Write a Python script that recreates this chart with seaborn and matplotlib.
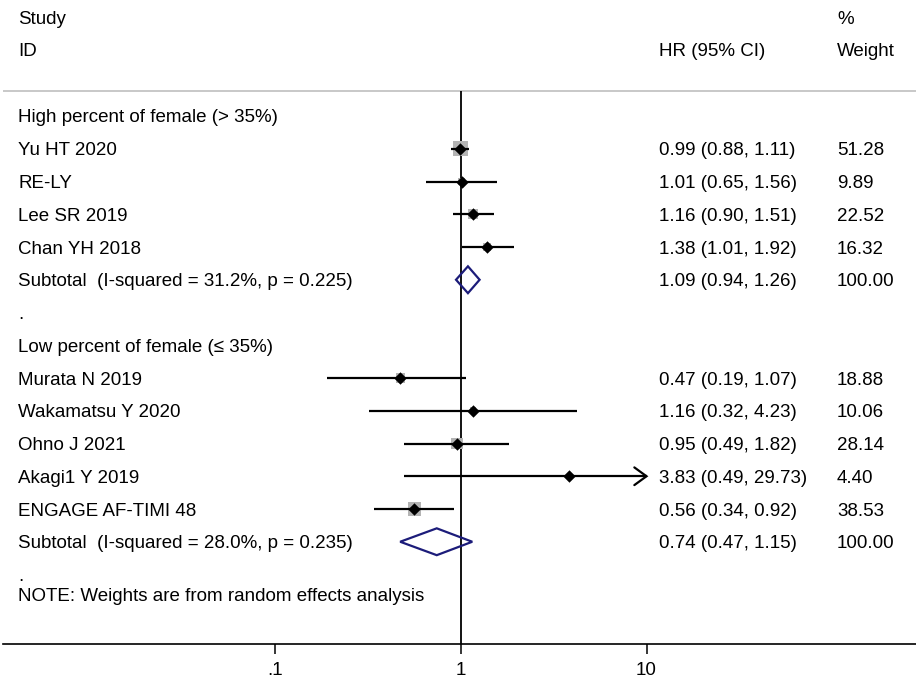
import numpy as np
import pandas as pd
import matplotlib
matplotlib.use("Agg")
import matplotlib.pyplot as plt
import matplotlib.transforms as mtransforms
import seaborn as sns

# Donnees du forest plot
high_studies = ["Yu HT 2020", "RE-LY", "Lee SR 2019", "Chan YH 2018"]
high_hr = [0.99, 1.01, 1.16, 1.38]
high_lo = [0.88, 0.65, 0.90, 1.01]
high_hi = [1.11, 1.56, 1.51, 1.92]
high_w = [51.28, 9.89, 22.52, 16.32]
high_sub = [1.09, 0.94, 1.26]
high_sub_label = "Subtotal  (I-squared = 31.2%, p = 0.225)"

low_studies = ["Murata N 2019", "Wakamatsu Y 2020", "Ohno J 2021", "Akagi1 Y 2019", "ENGAGE AF-TIMI 48"]
low_hr = [0.47, 1.16, 0.95, 3.83, 0.56]
low_lo = [0.19, 0.32, 0.49, 0.49, 0.34]
low_hi = [1.07, 4.23, 1.82, 29.73, 0.92]
low_w = [18.88, 10.06, 28.14, 4.40, 38.53]
low_sub = [0.74, 0.47, 1.15]
low_sub_label = "Subtotal  (I-squared = 28.0%, p = 0.235)"

x_ticks = [0.1, 1, 10]
x_ticklabels = [".1", "1", "10"]

# Construction du tableau des lignes
rows = []
rows.append(dict(label="High percent of female (> 35%)", kind="header"))
for s, h, l, u, w in zip(high_studies, high_hr, high_lo, high_hi, high_w):
    rows.append(dict(label=s, kind="study", hr=h, lo=l, hi=u, w=w))
rows.append(dict(label=high_sub_label, kind="sub", hr=high_sub[0], lo=high_sub[1], hi=high_sub[2], w=100.0))
rows.append(dict(label=".", kind="header"))
rows.append(dict(label="Low percent of female (\u2264 35%)", kind="header"))
for s, h, l, u, w in zip(low_studies, low_hr, low_lo, low_hi, low_w):
    rows.append(dict(label=s, kind="study", hr=h, lo=l, hi=u, w=w))
rows.append(dict(label=low_sub_label, kind="sub", hr=low_sub[0], lo=low_sub[1], hi=low_sub[2], w=100.0))
rows.append(dict(label=".", kind="header"))
df = pd.DataFrame(rows)
df["row"] = np.arange(len(df))

sns.set_theme(style="white")
plt.rcParams["font.family"] = ["Liberation Sans", "DejaVu Sans"]
plt.rcParams["text.color"] = "black"
FS = 13.5

fig = plt.figure(figsize=(9.16, 6.78), dpi=100)
ax = fig.add_axes([3 / 916, 1 - 644 / 678, 913 / 916, 644 / 678])
ax.set_xscale("log")
x_max = 10
ax.set_xlim(10 ** (-458 / 185.5), 10 ** (455 / 185.5))
row_px, px0 = 32.75, 116
ax.set_ylim((644 - px0) / row_px, (0 - px0) / row_px)

# ligne grise sous l'en-tete et ligne verticale a 1
line_row = (91 - px0) / row_px
ax.axhline(line_row, color="#c4c4c4", lw=1.3, zorder=1)
ax.vlines(1, line_row, ax.get_ylim()[0], color="black", lw=1.3, zorder=2)

st = df[df["kind"] == "study"].copy()
# boites grises (aire proportionnelle au poids)
ax.scatter(st["hr"], st["row"], s=st["w"] / 51.28 * 120, marker="s",
           color="#b4b4b4", linewidths=0, zorder=3)
# intervalles de confiance
for _, r in st.iterrows():
    hi = min(r["hi"], x_max)
    ax.hlines(r["row"], r["lo"], hi, color="black", lw=1.6, zorder=4)
    if r["hi"] > x_max:
        ax.plot([x_max * 0.86, x_max, x_max * 0.86],
                [r["row"] - 0.27, r["row"], r["row"] + 0.27],
                color="black", lw=1.6, zorder=4, solid_joinstyle="miter")
sns.scatterplot(data=st, x="hr", y="row", marker="D", color="black", s=40,
                linewidth=0, zorder=5, ax=ax, legend=False)

# losanges des sous-totaux
sub = df[df["kind"] == "sub"]
for _, r in sub.iterrows():
    ax.fill([r["lo"], r["hr"], r["hi"], r["hr"], r["lo"]],
            [r["row"], r["row"] - 0.41, r["row"], r["row"] + 0.41, r["row"]],
            facecolor="none", edgecolor="#1c1c7a", lw=1.6, zorder=5)

# textes
tr = mtransforms.blended_transform_factory(fig.transFigure, ax.transData)
x_lab, x_hr, x_w = 18 / 916, 659 / 916, 837 / 916
VA = "center_baseline"
for _, r in df.iterrows():
    ax.text(x_lab, r["row"], r["label"], transform=tr, ha="left", va=VA,
            fontsize=FS, color="black")
    if r["kind"] in ("study", "sub"):
        ax.text(x_hr, r["row"], f"{r['hr']:.2f} ({r['lo']:.2f}, {r['hi']:.2f})",
                transform=tr, ha="left", va=VA, fontsize=FS, color="black")
        ax.text(x_w, r["row"], f"{r['w']:.2f}", transform=tr, ha="left",
                va=VA, fontsize=FS, color="black")

ax.text(x_lab, (17 - px0) / row_px, "Study", transform=tr, ha="left", va=VA, fontsize=FS, color="black")
ax.text(x_lab, (49 - px0) / row_px, "ID", transform=tr, ha="left", va=VA, fontsize=FS, color="black")
ax.text(x_hr, (49 - px0) / row_px, "HR (95% CI)", transform=tr, ha="left", va=VA, fontsize=FS, color="black")
ax.text(x_w, (17 - px0) / row_px, "%", transform=tr, ha="left", va=VA, fontsize=FS, color="black")
ax.text(x_w, (49 - px0) / row_px, "Weight", transform=tr, ha="left", va=VA, fontsize=FS, color="black")
ax.text(x_lab, (594 - px0) / row_px, "NOTE: Weights are from random effects analysis",
        transform=tr, ha="left", va=VA, fontsize=FS, color="black")

# axe des x
for side in ["top", "right", "left"]:
    ax.spines[side].set_visible(False)
ax.spines["bottom"].set_color("black")
ax.spines["bottom"].set_linewidth(1.2)
ax.set_xticks(x_ticks)
ax.set_xticklabels(x_ticklabels, fontsize=FS, color="black")
ax.xaxis.set_minor_locator(matplotlib.ticker.NullLocator())
ax.tick_params(axis="x", direction="out", length=7, width=1.1, pad=6, bottom=True, colors="black")
ax.set_yticks([])
ax.set_xlabel("")
ax.set_ylabel("")
ax.grid(False)

fig.savefig("out.png", dpi=100)
